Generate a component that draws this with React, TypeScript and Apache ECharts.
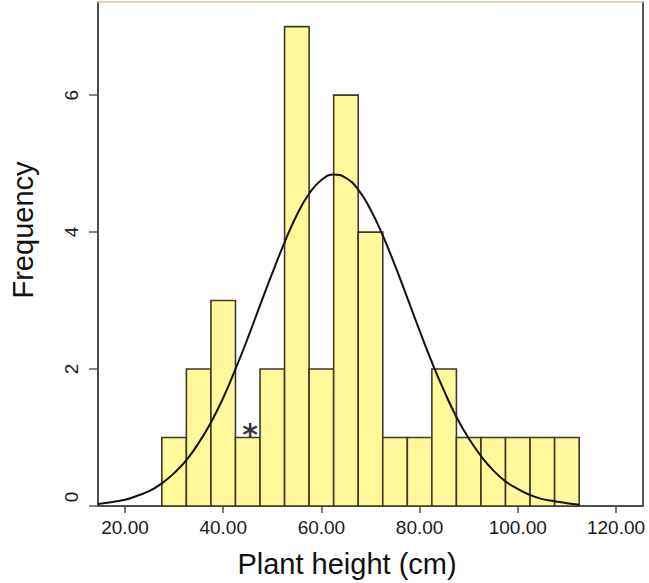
import React, { useEffect, useRef } from "react";
import * as echarts from "echarts";

// Histogram bins (plant height, cm)
const binStarts = [27.5, 32.5, 37.5, 42.5, 47.5, 52.5, 57.5, 62.5, 67.5, 72.5, 77.5, 82.5, 87.5, 92.5, 97.5, 102.5, 107.5];
const binWidth = 5;
const frequencies = [1, 2, 3, 1, 2, 7, 2, 6, 4, 1, 1, 2, 1, 1, 1, 1, 1];

// Fitted normal curve
const curveX = [14.5, 17.5, 20, 22.5, 25, 27.5, 30, 32.5, 35, 37.5, 40, 42.5, 45, 47.5, 50, 52.5, 55, 57.5, 60, 62.5, 65, 67.5, 70, 72.5, 75, 77.5, 80, 82.5, 85, 87.5, 90, 92.5, 95, 97.5, 100, 102.5, 105, 107.5, 110, 112.5];
const curveY = [0.03, 0.06, 0.09, 0.15, 0.22, 0.33, 0.48, 0.67, 0.92, 1.22, 1.58, 2.0, 2.45, 2.93, 3.4, 3.85, 4.25, 4.56, 4.76, 4.84, 4.79, 4.62, 4.33, 3.95, 3.51, 3.04, 2.56, 2.1, 1.68, 1.3, 0.99, 0.73, 0.52, 0.36, 0.25, 0.16, 0.1, 0.07, 0.04, 0.02];

// Annotation marker
const markerPoint = [45.5, 1];
const markerText = "*";

const xTicks = [20, 40, 60, 80, 100, 120];
const yTicks = [0, 2, 4, 6];

const FONT = "'Liberation Sans', Arial, sans-serif";

export default function App() {
  const ref = useRef<HTMLDivElement>(null);
  useEffect(() => {
    if (!ref.current) return;
    const chart = echarts.init(ref.current, null, { renderer: "svg" });
    const barData = binStarts.map((s, i) => [s, s + binWidth, frequencies[i]]);
    const curveData = curveX.map((x, i) => [x, curveY[i]]);
    chart.setOption({
      animation: false,
      backgroundColor: "#ffffff",
      textStyle: { fontFamily: FONT },
      grid: { left: 94, right: 6, top: 2, bottom: 77, containLabel: false },
      xAxis: [
        {
          type: "value",
          position: "bottom",
          min: 14.5,
          max: 125.5,
          splitLine: { show: false },
          axisLine: { show: true, onZero: false, lineStyle: { color: "#4d4d4d", width: 2 } },
          axisTick: { show: true, length: 7, customValues: xTicks, lineStyle: { color: "#5a4a38", width: 1.5 } },
          axisLabel: {
            customValues: xTicks,
            formatter: (v: number) => v.toFixed(2),
            fontSize: 19,
            color: "#1a1a1a",
            margin: 12,
            fontFamily: FONT,
          },
          name: "Plant height (cm)",
          nameLocation: "middle",
          nameGap: 43,
          nameTextStyle: { fontSize: 29, color: "#111", fontFamily: FONT, padding: [0, 47, 0, 0] },
        },
        {
          type: "value",
          position: "top",
          min: 14.5,
          max: 125.5,
          splitLine: { show: false },
          axisLine: { show: true, onZero: false, lineStyle: { color: "#d6c4a8", width: 1.5 } },
          axisTick: { show: false },
          axisLabel: { show: false },
        },
      ],
      yAxis: [
        {
          type: "value",
          position: "left",
          min: 0,
          max: 7.36,
          splitLine: { show: false },
          axisLine: { show: true, onZero: false, lineStyle: { color: "#4d4d4d", width: 2 } },
          axisTick: { show: true, length: 9, customValues: yTicks, lineStyle: { color: "#6b5a45", width: 1.5 } },
          axisLabel: {
            customValues: yTicks,
            rotate: 90,
            fontSize: 19,
            color: "#1a1a1a",
            margin: 17,
            fontFamily: FONT,
            formatter: (v: number) => (v === 0 ? "{z|0}" : String(v)),
            rich: {
              z: { fontSize: 19, color: "#1a1a1a", fontFamily: FONT, padding: [0, 0, 0, 18] },
            },
          },
          name: "Frequency",
          nameLocation: "middle",
          nameGap: 61,
          nameTextStyle: { fontSize: 29, color: "#111", fontFamily: FONT, padding: [0, 0, 0, 48] },
        },
        {
          type: "value",
          position: "right",
          min: 0,
          max: 7.36,
          splitLine: { show: false },
          axisLine: { show: true, onZero: false, lineStyle: { color: "#555555", width: 2 } },
          axisTick: { show: false },
          axisLabel: { show: false },
        },
      ],
      series: [
        {
          type: "custom",
          xAxisIndex: 0,
          yAxisIndex: 0,
          encode: { x: [0, 1], y: 2 },
          data: barData,
          renderItem: (params: any, api: any) => {
            const p0 = api.coord([api.value(0), 0]);
            const p1 = api.coord([api.value(1), api.value(2)]);
            return {
              type: "rect",
              shape: { x: p0[0], y: p1[1], width: p1[0] - p0[0], height: p0[1] - p1[1] },
              style: { fill: "#fff99c", stroke: "#3f3a26", lineWidth: 1.6 },
            };
          },
          z: 2,
        },
        {
          type: "line",
          xAxisIndex: 0,
          yAxisIndex: 0,
          data: curveData,
          smooth: true,
          symbol: "none",
          lineStyle: { color: "#111111", width: 2 },
          z: 3,
        },
        {
          type: "scatter",
          xAxisIndex: 0,
          yAxisIndex: 0,
          data: [markerPoint],
          symbolSize: 0,
          label: {
            show: true,
            formatter: markerText,
            position: "top",
            distance: 0,
            offset: [0, 12],
            fontSize: 30,
            fontWeight: "bold",
            color: "#000",
            fontFamily: "'DejaVu Sans', sans-serif",
          },
          z: 4,
        },
      ],
    });
    return () => chart.dispose();
  }, []);
  return (
    <div
      ref={ref}
      style={{ position: "absolute", left: 0, top: 0, width: 649, height: 583 }}
    />
  );
}
